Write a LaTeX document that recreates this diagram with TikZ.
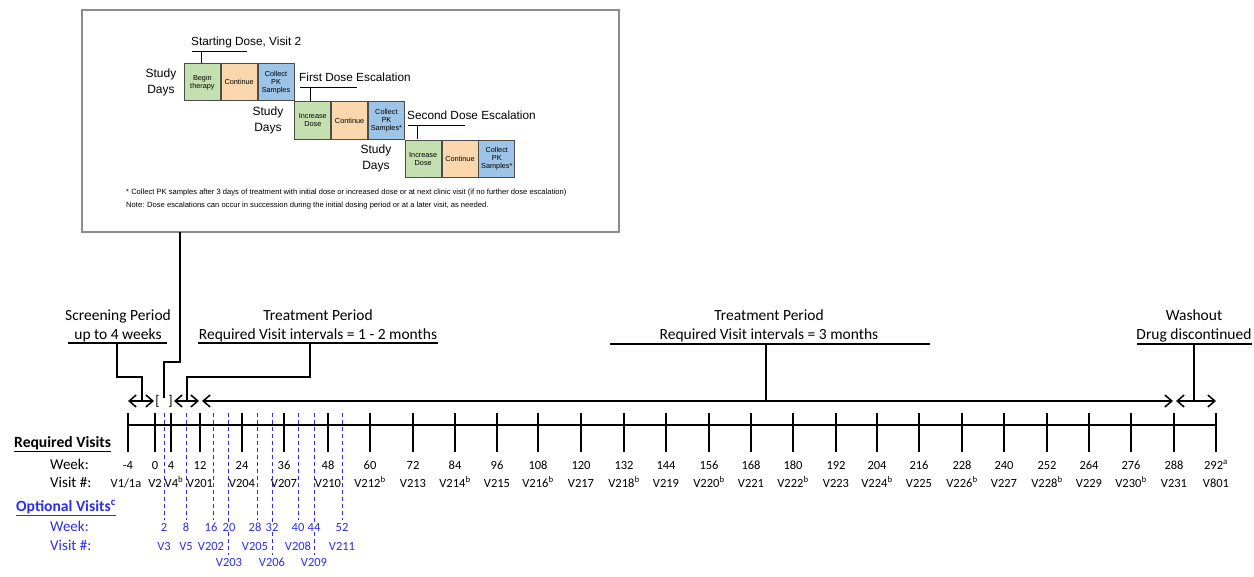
\documentclass[tikz,border=0pt]{standalone}
\usepackage{fontspec}
\setmainfont{Carlito}
\newfontfamily\insetfont{Liberation Sans}
\usetikzlibrary{arrows.meta}

\definecolor{optblue}{RGB}{45,45,235}
\definecolor{doseGreen}{RGB}{197,224,176}
\definecolor{dosePeach}{RGB}{250,215,172}
\definecolor{doseBlue}{RGB}{157,195,230}

\tikzset{
  lbl/.style={font=\fontsize{12.5}{14}\selectfont, inner sep=1pt, anchor=base},
  optlbl/.style={lbl, text=optblue, fill=white},
  rowlbl/.style={font=\fontsize{15}{18}\selectfont, inner sep=0pt, anchor=base west},
  rowtitle/.style={font=\bfseries\fontsize{15.6}{17}\selectfont, inner sep=0pt, anchor=base west},
  head/.style={font=\fontsize{15.5}{19}\selectfont, align=center, inner sep=0pt},
  conn/.style={line width=1.6pt},
  period/.style={line width=1.5pt, {Straight Barb[length=7pt,width=12pt]}-{Straight Barb[length=7pt,width=12pt]}},
  tick/.style={line width=1.8pt},
  optline/.style={optblue, line width=0.9pt, dash pattern=on 4pt off 3pt},
  dosebox/.style={draw=black!70, line width=0.8pt, minimum width=36pt, minimum height=37.5pt,
    inner sep=0pt, align=center, font=\insetfont\fontsize{7.3}{8}\selectfont},
  dosetitle/.style={font=\insetfont\fontsize{11.8}{14}\selectfont, inner sep=0pt, anchor=west},
  studydays/.style={font=\insetfont\fontsize{12}{16}\selectfont, align=center, inner sep=0pt},
  note/.style={font=\insetfont\fontsize{7.6}{8}\selectfont, inner sep=0pt, anchor=west},
}

\begin{document}
\begin{tikzpicture}[x=1pt,y=-1pt]
\useasboundingbox (0,0) rectangle (1254,577);

% dose escalation inset
\draw[draw=black!45, line width=2pt] (82,10) rectangle (619,232);
\coordinate (insetB) at (180,232);

\node[dosetitle] (sdose) at (191,42) {Starting Dose, Visit 2};
\node[studydays] (sd1) at (161,82) {Study\\Days};
\node[dosebox, fill=doseGreen, anchor=north west] (b1) at (184,63) {Begin\\therapy};
\node[dosebox, fill=dosePeach, anchor=west] (c1) at (b1.east) {Continue};
\node[dosebox, fill=doseBlue, anchor=west] (p1) at (c1.east) {Collect\\PK\\Samples};
\draw (192,51) -- (247,51) (201,51) -- (201,63);

\node[dosetitle] (esc1) at (299,77) {First Dose Escalation};
\node[studydays] (sd2) at (268,120) {Study\\Days};
\node[dosebox, fill=doseGreen, anchor=north west] (b2) at (p1.south east) {Increase\\Dose};
\node[dosebox, fill=dosePeach, anchor=west] (c2) at (b2.east) {Continue};
\node[dosebox, fill=doseBlue, anchor=west] (p2) at (c2.east) {Collect\\PK\\Samples*};
\draw (300,87) -- (357,87) (310,87) -- (310,101);

\node[dosetitle] (esc2) at (407,115) {Second Dose Escalation};
\node[studydays] (sd3) at (376,158) {Study\\Days};
\node[dosebox, fill=doseGreen, anchor=north west] (b3) at (p2.south east) {Increase\\Dose};
\node[dosebox, fill=dosePeach, anchor=west] (c3) at (b3.east) {Continue};
\node[dosebox, fill=doseBlue, anchor=west] (p3) at (c3.east) {Collect\\PK\\Samples*};
\draw (408,125) -- (465,125) (417,125) -- (417,139);

\node[note] (n1) at (126,193) {* Collect PK samples after 3 days of treatment with initial dose or increased dose or at next clinic visit (if no further dose escalation)};
\node[note] (n2) at (126,206) {Note: Dose escalations can occur in succession during the initial dosing period or at a later visit, as needed.};

% period headers
\node[head] (scr) at (118,326) {Screening Period\\up to 4 weeks};
\node[head] (trtA) at (318,326) {Treatment Period\\Required Visit intervals = 1 - 2 months};
\node[head] (trtB) at (769,326) {Treatment Period\\Required Visit intervals = 3 months};
\node[head] (wash) at (1194,326) {Washout\\Drug discontinued};
\draw[conn] (68,343) -- (167,343) (198,343) -- (438,343) (610,344) -- (930,344) (1137,344) -- (1252,344);

\coordinate (scrU) at (117,343);   \coordinate (scrA) at (142,401);
\coordinate (trtAU) at (310,343);  \coordinate (trtAA) at (187,401);
\coordinate (trtBU) at (766,344);  \coordinate (trtBA) at (766,401);
\coordinate (washU) at (1194,344); \coordinate (washA) at (1194,401);
\coordinate (bkt) at (164,398);

\draw[conn] (scrU) -- ++(0,34) -| (scrA);
\draw[conn] (trtAU) -- ++(0,34) -| (trtAA);
\draw[conn] (trtBU) -- (trtBA);
\draw[conn] (washU) -- (washA);
\draw[conn] (insetB) -- ++(0,130) -| (bkt);

% period arrows
\draw[period] (128,401) -- (154,401);
\node[font=\fontsize{14}{15}\selectfont, inner sep=0pt] (lb) at (157.5,401) {[};
\node[font=\fontsize{14}{15}\selectfont, inner sep=0pt] (rb) at (170.5,401) {]};
\draw[period] (174,401) -- (199,401);
\draw[period] (202,401) -- (1173,401);
\draw[period] (1176,401) -- (1216,401);

% optional visits
\foreach \x/\lx/\w/\v/\ly/\e in {164/164/2/V3/550/520, 186/186/8/V5/550/520, 213/211/16/V202/550/520,
    228/229/20/V203/566/555, 257/255/28/V205/550/520, 272/272/32/V206/566/555,
    298/298/40/V208/550/520, 314/314/44/V209/566/555, 342/342/52/V211/550/520} {
  \draw[optline] (\x,413) -- (\x,\e);
  \node[optlbl] (ow\x) at (\lx,531) {\w};
  \node[optlbl] (ov\x) at (\lx,\ly) {\v};
}

% time axis with required visits
\draw[tick] (128,425) coordinate (ax0) -- (1216,425) coordinate (ax1);
\foreach \x/\w/\vx/\v in {128/-4/126/{V1/1a}, 155/0/155/V2, 171/4/174/V4\textsuperscript{b}, 200/12/200/V201,
    242/24/242/V204, 284/36/284/V207, 328/48/328/V210, 370/60/370/V212\textsuperscript{b}, 413/72/413/V213,
    455/84/455/V214\textsuperscript{b}, 497/96/497/V215, 538/108/538/V216\textsuperscript{b}, 581/120/581/V217,
    624/132/624/V218\textsuperscript{b}, 666/144/666/V219, 709/156/709/V220\textsuperscript{b}, 751/168/751/V221,
    793/180/793/V222\textsuperscript{b}, 836/192/836/V223, 877/204/877/V224\textsuperscript{b}, 919/216/919/V225,
    962/228/962/V226\textsuperscript{b}, 1004/240/1004/V227, 1047/252/1047/V228\textsuperscript{b},
    1089/264/1089/V229, 1131/276/1131/V230\textsuperscript{b}, 1174/288/1174/V231,
    1216/292\textsuperscript{a}/1216/V801} {
  \draw[tick] (\x,413) -- (\x,452);
  \node[lbl] (w\x) at (\x,469) {\w};
  \node[lbl] (v\x) at (\vx,487) {\v};
}

% row titles
\node[rowtitle] (req) at (14,447) {\underline{Required Visits}};
\node[rowlbl] (reqW) at (50,469) {Week:};
\node[rowlbl] (reqV) at (50,487) {Visit \#:};
\node[rowtitle, text=optblue] (opt) at (16,511) {\underline{Optional Visits\textsuperscript{c}}};
\node[rowlbl, text=optblue] (optW) at (50,531) {Week:};
\node[rowlbl, text=optblue] (optV) at (50,550) {Visit \#:};
\end{tikzpicture}
\end{document}
